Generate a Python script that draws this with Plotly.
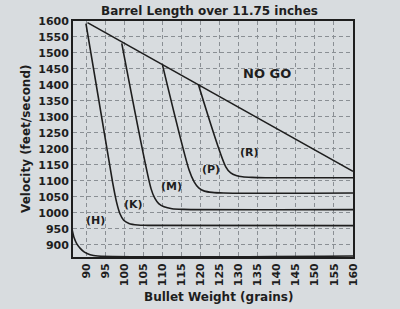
import plotly.graph_objects as go

# ---- data ----
nogo_x = [90.3, 160]
nogo_y = [1595, 1130]

h_x = [86.3, 86.8, 87.5, 88.4, 89.5, 91.0, 93.0, 160]
h_y = [946, 922, 903, 889, 877, 869, 865, 865]

k_x = [89.9, 96.9, 97.9, 98.8, 99.8, 101.2, 103.5, 106, 160]
k_y = [1592, 1095, 1035, 998, 977, 967, 962, 961, 960]

m_x = [99.3, 107.0, 108.0, 109.0, 110.4, 112.5, 115.5, 160]
m_y = [1530, 1075, 1045, 1029, 1019, 1013, 1011, 1010]

p_x = [110.0, 117.0, 118.3, 119.5, 121.0, 123.0, 126.0, 160]
p_y = [1462, 1133, 1097, 1078, 1068, 1064, 1062, 1062]

r_x = [119.4, 126.6, 127.9, 129.3, 131.0, 133.5, 137.0, 160]
r_y = [1402, 1144, 1125, 1117, 1113, 1111, 1110, 1110]

label_text = ["(H)", "(K)", "(M)", "(P)", "(R)", "NO GO"]
label_x = [92.4, 102.4, 112.4, 122.6, 132.9, 137.3]
label_y = [975, 1027, 1084, 1136, 1189, 1435]

x_ticks = list(range(90, 161, 5))
y_ticks = list(range(900, 1601, 50))

title = "Barrel Length over 11.75 inches"
x_title = "Bullet Weight (grains)"
y_title = "Velocity (feet/second)"

# ---- figure ----
BG = "#d8dcdf"
INK = "#1e1e1e"
FONT = "DejaVu Sans"

fig = go.Figure()
for xs, ys in [(nogo_x, nogo_y), (h_x, h_y), (k_x, k_y), (m_x, m_y), (p_x, p_y), (r_x, r_y)]:
    fig.add_trace(go.Scatter(x=xs, y=ys, mode="lines",
                             line=dict(color=INK, width=1.6, shape="spline", smoothing=0.8),
                             hoverinfo="skip", showlegend=False))

for t, x, y in zip(label_text, label_x, label_y):
    fig.add_annotation(x=x, y=y, text="<b>%s</b>" % t, showarrow=False,
                       font=dict(family=FONT, size=13 if t == "NO GO" else 11, color=INK))

fig.add_annotation(xref="paper", yref="paper", x=0.486, y=1, yanchor="bottom", yshift=1,
                   text="<b>%s</b>" % title, showarrow=False,
                   font=dict(family=FONT, size=12, color=INK))
fig.add_annotation(xref="paper", yref="paper", x=-0.168, xanchor="center", y=0.5, yanchor="middle",
                   textangle=-90,
                   text="<b>%s</b>" % y_title, showarrow=False,
                   font=dict(family=FONT, size=12, color=INK))
fig.add_annotation(xref="paper", yref="paper", x=0.52, xanchor="center", y=0, yanchor="top", yshift=-31,
                   text="<b>%s</b>" % x_title, showarrow=False,
                   font=dict(family=FONT, size=12, color=INK))

axis_common = dict(showline=True, mirror=True, linecolor=INK, linewidth=1.8,
                   showgrid=True, gridcolor="#8a8f94", gridwidth=1, griddash="4px,3px",
                   zeroline=False, ticks="",
                   tickfont=dict(family=FONT, size=11, color=INK))

fig.update_xaxes(range=[86.5, 160], tickvals=x_ticks, ticktext=["<b>%d</b>" % v for v in x_ticks],
                 tickangle=-90, **axis_common)
fig.update_yaxes(range=[862, 1600], tickvals=y_ticks, ticktext=["<b>%d</b>" % v for v in y_ticks],
                 **axis_common)

fig.update_layout(width=400, height=309, margin=dict(l=73, r=47, t=21, b=52),
                  paper_bgcolor=BG, plot_bgcolor=BG,
                  font=dict(family=FONT, color=INK))

fig.write_html("out.html")
